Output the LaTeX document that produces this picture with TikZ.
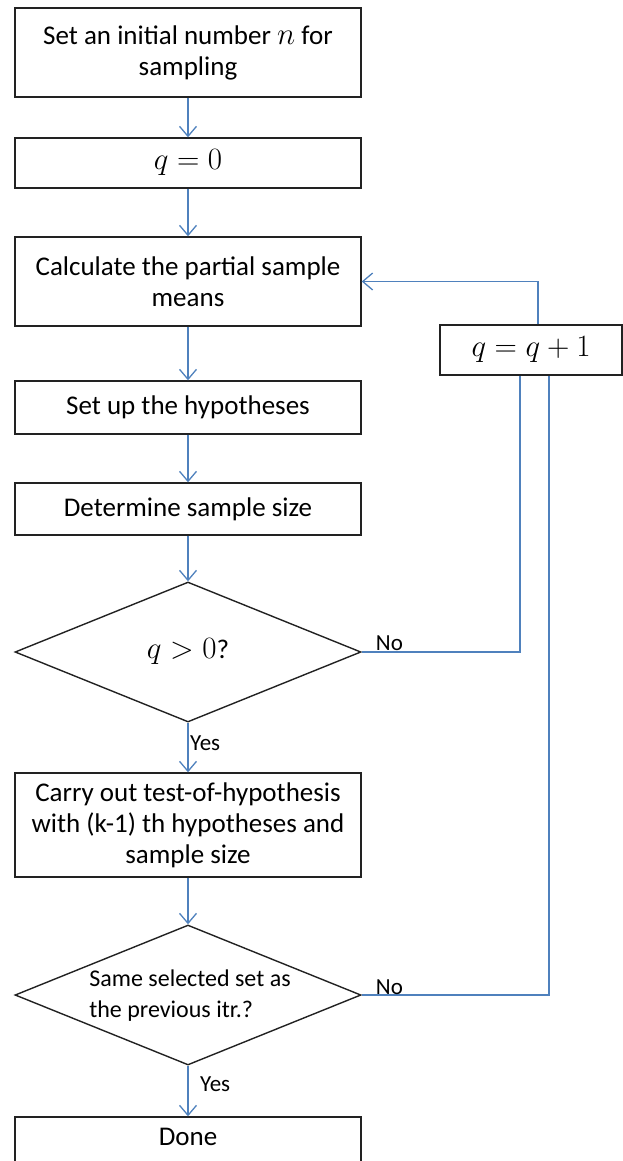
\RequirePackage{fix-cm}
\documentclass[tikz,border=0pt]{standalone}
\usepackage{fontspec}
\setmainfont{Carlito}
\usetikzlibrary{shapes.geometric,arrows.meta}
\definecolor{flowblue}{HTML}{4F81BD}
\definecolor{boxline}{HTML}{222222}
\tikzset{
  stepbox/.style={draw=boxline, line width=1.4pt, rectangle, minimum width=346pt, inner sep=0pt, align=center, font=\fontsize{27}{31}\selectfont},
  decbox/.style={draw=boxline, line width=1.4pt, diamond, minimum width=346pt, minimum height=140pt, inner sep=0pt},
  dectext/.style={inner sep=0pt, font=\fontsize{24}{31}\selectfont},
  mathtext/.style={font=\fontsize{31}{34}\selectfont},
  conn/.style={draw=flowblue, line width=1.3pt, -{Straight Barb[length=10pt,width=17pt,line width=1.3pt]}},
  plain/.style={draw=flowblue, line width=1.3pt},
  lbl/.style={font=\fontsize{23}{26}\selectfont, inner sep=0pt}
}
\begin{document}
\begin{tikzpicture}[x=1pt,y=1pt]
\useasboundingbox (0,0) rectangle (623,-1161);
\node[stepbox, minimum height=89pt] (b1) at (188,-52.5) {Set an initial number {\fontsize{31}{31}\selectfont$n$} for\\sampling};
\node[stepbox, mathtext, minimum height=50pt] (b2) at (188,-163) {$q=0$};
\node[stepbox, minimum height=89pt] (b3) at (188,-281.5) {Calculate the partial sample\\means};
\node[stepbox, minimum height=53pt] (b4) at (188,-407.5) {Set up the hypotheses};
\node[stepbox, minimum height=52pt] (b5) at (188,-509) {Determine sample size};
\node[decbox] (d1) at (188,-652) {};
\node[dectext, mathtext] (d1t) at (188,-652) {$q>0$\fontsize{27}{31}\selectfont ?};
\node[stepbox, minimum height=104pt] (b6) at (188,-825) {Carry out test-of-hypothesis\\with (k-1) th hypotheses and\\sample size};
\node[decbox] (d2) at (188,-995) {};
\node[dectext, align=left] (d2t) at (190,-996) {Same selected set as\\the previous itr.?};
\node[stepbox, minimum height=50pt] (done) at (188,-1142) {};
\node[font=\fontsize{27}{31}\selectfont, inner sep=0pt] (donetxt) at (188,-1137) {Done};
\node[stepbox, mathtext, minimum width=182pt, minimum height=50pt] (qb) at (531,-350) {$q=q+1$};

\draw[conn] (b1) -- (b2);
\draw[conn] (b2) -- (b3);
\draw[conn] (b3) -- (b4);
\draw[conn] (b4) -- (b5);
\draw[conn] (b5) -- (d1);
\draw[conn] (d1) -- (b6);
\draw[conn] (b6) -- (d2);
\draw[conn] (d2) -- (done);
\node[lbl, anchor=west] (y1) at ([xshift=2pt,yshift=-20pt]d1.south) {Yes};
\node[lbl, anchor=west] (y2) at ([xshift=12pt,yshift=-18pt]d2.south) {Yes};

\coordinate (qt) at ([xshift=7pt]qb.north);
\coordinate (qa) at ([xshift=-11pt]qb.south);
\coordinate (qc) at ([xshift=18pt]qb.south);
\draw[conn] (qt) |- (b3.east);
\draw[plain] (d1.east) -| (qa);
\draw[plain] (d2.east) -| (qc);
\node[lbl, anchor=west] (n1) at ([xshift=14pt,yshift=9pt]d1.east) {No};
\node[lbl, anchor=west] (n2) at ([xshift=14pt,yshift=8pt]d2.east) {No};
\end{tikzpicture}
\end{document}
